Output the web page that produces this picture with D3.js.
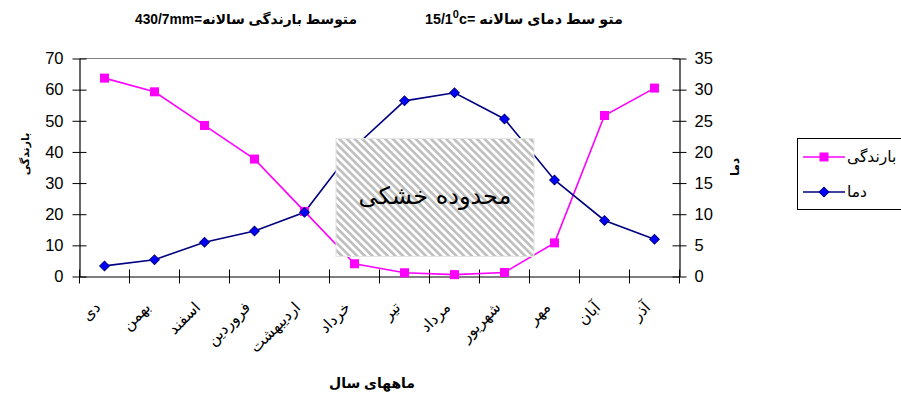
<!DOCTYPE html>
<html>
<head>
<meta charset="utf-8">
<script src="https://cdn.jsdelivr.net/npm/d3@7"></script>
<style>
  html, body { margin: 0; padding: 0; background: #fff; }
  svg { display: block; font-family: "Liberation Sans", Arial, "DejaVu Sans", sans-serif; }
</style>
</head>
<body>
<svg id="chart" width="901" height="394"></svg>
<script>
// Monthly climate (Persian calendar months, starting from Dey)
const months = ["دی", "بهمن", "اسفند", "فروردین", "اردیبهشت", "خرداد", "تیر", "مرداد", "شهریور", "مهر", "آبان", "آذر"];
// Precipitation (mm), left axis
const rainfall = [63.7, 59.3, 48.5, 37.7, 20.9, 4.1, 1.2, 0.6, 1.3, 10.8, 51.7, 60.5];
// Temperature (°C), right axis
const temperature = [1.7, 2.7, 5.5, 7.3, 10.3, 20.8, 28.2, 29.5, 25.3, 15.5, 9.0, 6.0];
const leftTicks = [0, 10, 20, 30, 40, 50, 60, 70];
const rightTicks = [0, 5, 10, 15, 20, 25, 30, 35];
const dryMonths = ["خرداد", "شهریور"];

const svg = d3.select("#chart");
const plotL = 79.5, plotR = 679.5, plotT = 58.5, plotB = 276.5;

const x = d3.scaleBand().domain(months).range([plotL, plotR]).padding(0);
const yL = d3.scaleLinear().domain([0, 70]).range([plotB, plotT]);
const yR = d3.scaleLinear().domain([0, 35]).range([plotB, plotT]);
const cx = d => x(d) + x.bandwidth() / 2;

// hatch pattern for the dry period box
const defs = svg.append("defs");
const pat = defs.append("pattern")
  .attr("id", "hatch").attr("patternUnits", "userSpaceOnUse")
  .attr("width", 5.4).attr("height", 5.4)
  .attr("patternTransform", "rotate(-45)");
pat.append("rect").attr("width", 5.4).attr("height", 5.4).attr("fill", "#fff");
pat.append("rect").attr("width", 2.7).attr("height", 5.4).attr("fill", "#c0c0c0");

// top border of plot area
svg.append("line").attr("x1", plotL).attr("x2", plotR).attr("y1", plotT).attr("y2", plotT)
  .attr("stroke", "#808080").attr("stroke-width", 1);

// left axis
const gL = svg.append("g").attr("transform", `translate(${plotL},0)`)
  .call(d3.axisLeft(yL).tickValues(leftTicks).tickSize(7).tickPadding(9).tickSizeOuter(0));
gL.selectAll(".tick line").attr("x1", 7);
// right axis
const gR = svg.append("g").attr("transform", `translate(${plotR},0)`)
  .call(d3.axisRight(yR).tickValues(rightTicks).tickSize(7).tickPadding(8).tickSizeOuter(0));
gR.selectAll(".tick line").attr("x1", -7);
// bottom axis (ticks at category boundaries)
const gB = svg.append("g").attr("transform", `translate(0,${plotB})`)
  .call(d3.axisBottom(x).tickSize(7).tickSizeOuter(0).tickFormat(""));
gB.selectAll(".tick").remove();
const bounds = months.map(m => x(m)).concat([plotR]);
gB.selectAll("line.b").data(bounds).enter().append("line")
  .attr("x1", d => d).attr("x2", d => d).attr("y1", -7).attr("y2", 7)
  .attr("stroke", "#000");

[gL, gR, gB].forEach(g => {
  g.selectAll(".domain").attr("stroke", "#000").attr("stroke-width", 1.2);
  g.selectAll(".tick line").attr("stroke", "#000");
  g.selectAll(".tick text").attr("font-size", 16.5).attr("fill", "#000")
    .attr("font-family", "'Liberation Sans', Arial, sans-serif");
});

// month labels, rotated
svg.append("g").selectAll("text").data(months).enter().append("text")
  .attr("transform", d => `translate(${cx(d) - 7},${plotB + 28}) rotate(-45)`)
  .attr("text-anchor", "end")
  .attr("dy", "0.35em")
  .attr("font-size", 15.5)
  .attr("font-family", "'DejaVu Sans', sans-serif")
  .text(d => d);

// lines
const lineRain = d3.line().x((d, i) => cx(months[i])).y(d => yL(d));
const lineTemp = d3.line().x((d, i) => cx(months[i])).y(d => yR(d));

svg.append("path").datum(rainfall).attr("d", lineRain)
  .attr("fill", "none").attr("stroke", "#ff00ff").attr("stroke-width", 1.6);
svg.append("path").datum(temperature).attr("d", lineTemp)
  .attr("fill", "none").attr("stroke", "#000080").attr("stroke-width", 1.6);

// markers
svg.append("g").selectAll("rect").data(rainfall).enter().append("rect")
  .attr("x", (d, i) => cx(months[i]) - 4.5).attr("y", d => yL(d) - 4.5)
  .attr("width", 9).attr("height", 9).attr("fill", "#ff00ff");
svg.append("g").selectAll("path").data(temperature).enter().append("path")
  .attr("d", d3.symbol().type(d3.symbolSquare).size(46))
  .attr("transform", (d, i) => `translate(${cx(months[i])},${yR(d)}) rotate(45)`)
  .attr("fill", "#0000ff").attr("stroke", "#000080").attr("stroke-width", 1);

// dry-period box, drawn over the series
const bx0 = x(dryMonths[0]) + 6.5, bx1 = x(dryMonths[1]) + 54.5;
svg.append("rect").attr("x", bx0).attr("y", 138.5).attr("width", bx1 - bx0).attr("height", 118)
  .attr("fill", "url(#hatch)").attr("stroke", "#e4e4e4").attr("stroke-width", 1);
svg.append("text").attr("x", (bx0 + bx1) / 2).attr("y", 204)
  .attr("text-anchor", "middle").attr("font-size", 24)
  .attr("font-family", "'DejaVu Sans', sans-serif")
  .text("محدوده خشکی");

// titles
const t1 = svg.append("text").attr("x", 135).attr("y", 24)
  .attr("font-size", 13.8).attr("font-weight", "bold").attr("direction", "ltr");
t1.append("tspan").text("430/7mm=");
t1.append("tspan").text("متوسط بارندگی سالانه");

const t2 = svg.append("text").attr("x", 425).attr("y", 24)
  .attr("font-size", 14.3).attr("font-weight", "bold").attr("direction", "ltr");
t2.append("tspan").text("15/1");
t2.append("tspan").attr("dy", -6).attr("font-size", 11).text("0");
t2.append("tspan").attr("dy", 6).text("c= ");
t2.append("tspan").text("متو سط دمای سالانه");

// axis titles
svg.append("text").attr("transform", "translate(25,154) rotate(-90)")
  .attr("text-anchor", "middle").attr("font-size", 11).attr("font-weight", "bold")
  .attr("dy", "0.35em").text("بارندگی");
svg.append("text").attr("transform", "translate(735,167) rotate(-90)")
  .attr("text-anchor", "middle").attr("font-size", 12).attr("font-weight", "bold")
  .attr("dy", "0.35em").text("دما");
svg.append("text").attr("x", 372).attr("y", 388)
  .attr("text-anchor", "middle").attr("font-size", 14).attr("font-weight", "bold")
  .text("ماههای سال");

// legend
const lg = svg.append("g");
lg.append("rect").attr("x", 797.5).attr("y", 138.5).attr("width", 110).attr("height", 71)
  .attr("fill", "#fff").attr("stroke", "#000").attr("stroke-width", 1);
const legendItems = [
  { name: "بارندگی", color: "#ff00ff", y: 157, marker: "square" },
  { name: "دما", color: "#000080", y: 192, marker: "diamond" }
];
legendItems.forEach(it => {
  lg.append("line").attr("x1", 803).attr("x2", 845).attr("y1", it.y).attr("y2", it.y)
    .attr("stroke", it.color).attr("stroke-width", 1.6);
  if (it.marker === "square") {
    lg.append("rect").attr("x", 824 - 4.5).attr("y", it.y - 4.5).attr("width", 9).attr("height", 9)
      .attr("fill", "#ff00ff");
  } else {
    lg.append("path").attr("d", d3.symbol().type(d3.symbolSquare).size(46))
      .attr("transform", `translate(824,${it.y}) rotate(45)`)
      .attr("fill", "#0000ff").attr("stroke", "#000080");
  }
  lg.append("text").attr("x", 847).attr("y", it.y).attr("dy", "0.35em")
    .attr("font-size", 15.5).attr("direction", "ltr").text(it.name);
});
</script>
</body>
</html>
